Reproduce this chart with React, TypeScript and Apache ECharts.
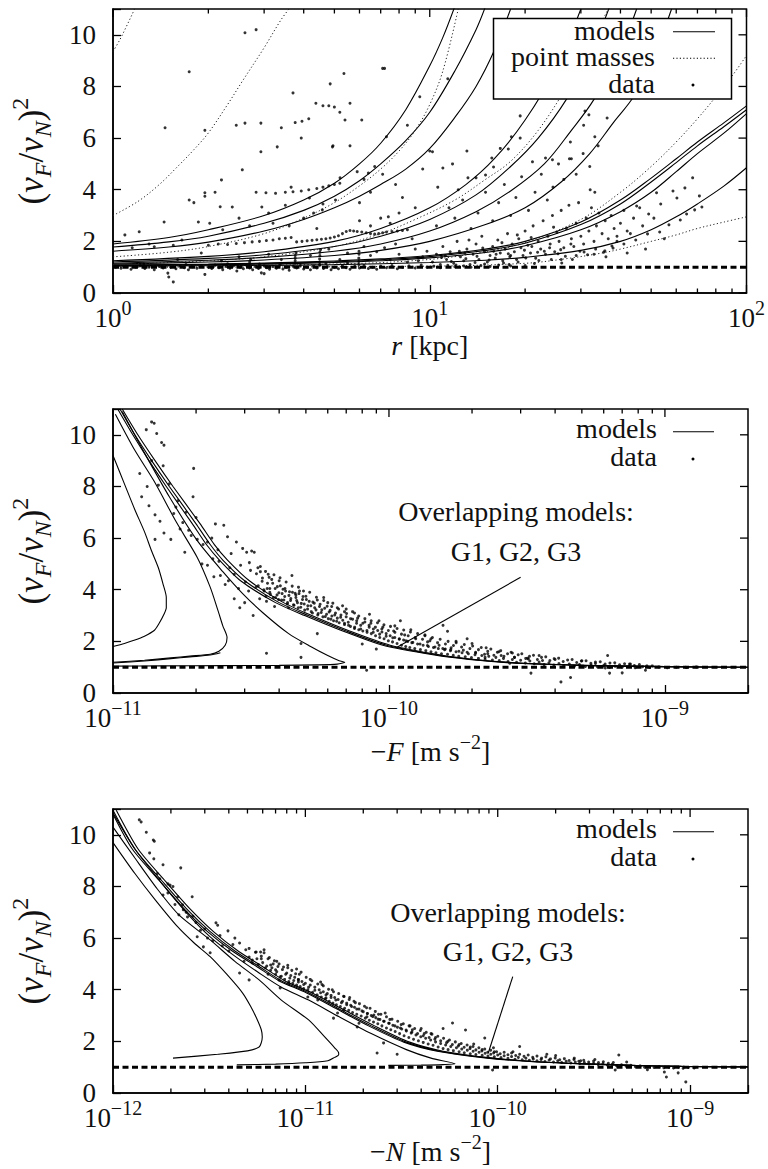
import React, { useEffect, useRef } from "react";
import * as echarts from "echarts";

const FONT = "Liberation Serif";
const INK = "#111";

// ---------------- Panel 1: (vF/vN)^2 vs r [kpc] ----------------
const p1Models = [
  [[1,1.9],[1.5,2.15],[2,2.45],[3,3.0],[4,3.6],[5,4.25],[6,5.0],[7,5.8],[8.4,7.1],[10,8.8],[11,9.9],[12,11.1]],
  [[1,1.78],[1.5,1.98],[2,2.2],[3,2.7],[4,3.2],[5,3.75],[6,4.35],[7,5.0],[8.4,5.9],[10,7.0],[12,8.6],[14,10.2],[15,11.1]],
  [[1,1.62],[1.5,1.78],[2,1.97],[3,2.4],[4,2.85],[5,3.3],[6,3.75],[7,4.2],[8.4,4.8],[10,5.6],[12,6.8],[14,8.0],[16,9.4],[18,11.0]],
  [[1,1.25],[2,1.42],[3,1.6],[5,2.0],[7,2.5],[10,3.3],[13,4.2],[16,5.2],[20,6.7],[25,8.7],[30,11.0]],
  [[1,1.2],[2,1.34],[3,1.48],[5,1.8],[7,2.2],[10,2.85],[14,3.8],[18,4.9],[22,6.0],[27,7.5],[32,9.2],[37,11.1]],
  [[1,1.15],[2,1.27],[3,1.38],[5,1.62],[7,1.9],[10,2.4],[14,3.15],[18,3.95],[23,5.0],[28,6.3],[33,7.5],[40,9.4],[45,11.0]],
  [[1,1.12],[2,1.2],[3,1.28],[5,1.45],[7,1.65],[10,2.0],[15,2.65],[20,3.3],[26,4.3],[32,5.4],[38,6.6],[44,7.6],[50,8.9],[58,11.0]],
  [[1,1.08],[2,1.12],[3,1.16],[5,1.24],[7,1.32],[10,1.45],[15,1.7],[20,2.0],[30,2.75],[40,3.6],[50,4.45],[60,5.2],[70,5.85],[85,6.6],[100,7.25]],
  [[1,1.07],[2,1.1],[3,1.14],[5,1.21],[7,1.29],[10,1.41],[15,1.65],[20,1.93],[30,2.65],[40,3.45],[50,4.3],[60,5.05],[70,5.7],[85,6.45],[100,7.1]],
  [[1,1.06],[2,1.09],[3,1.12],[5,1.18],[7,1.25],[10,1.36],[15,1.57],[20,1.83],[30,2.45],[40,3.15],[50,3.9],[60,4.7],[70,5.4],[85,6.2],[100,6.95]],
  [[1,1.04],[3,1.07],[5,1.1],[10,1.18],[15,1.27],[20,1.38],[30,1.65],[40,2.0],[50,2.45],[60,2.95],[70,3.45],[85,4.15],[100,4.85]],
];

const p1PointMasses = [
  [[1,9.35],[1.05,9.8],[1.1,10.3],[1.15,10.8],[1.18,11.1]],
  [[1,3.0],[1.2,3.55],[1.4,4.2],[1.6,4.9],[1.8,5.55],[2,6.2],[2.3,7.3],[2.56,8.2],[3,9.5],[3.4,10.6],[3.7,11.2]],
  [[1,1.4],[1.5,1.58],[2,1.8],[3,2.3],[4,2.9],[5,3.5],[6,4.15],[7,4.8],[8,5.5],[9,6.3],[10,7.3],[11,8.6],[12.3,11.0]],
  [[1,1.1],[2,1.25],[3,1.4],[5,1.8],[7,2.3],[9,2.85],[12,3.6],[15,4.4],[18,5.1],[22,6.3],[26.8,7.9],[31,9.3],[36.6,11.0]],
  [[1,1.03],[5,1.12],[10,1.3],[15,1.6],[20,1.95],[30,2.85],[40,3.9],[50,4.9],[60,5.85],[70,6.75],[80,7.6],[90,8.4],[100,9.2]],
  [[1,1.0],[10,1.04],[20,1.15],[27,1.33],[35,1.55],[40,1.7],[50,2.0],[60,2.25],[70,2.5],[85,2.75],[100,2.95]],
];

const p1DataBand = [
  [1.02,1.0],[1.06,0.96],[1.1,1.04],[1.14,0.92],[1.18,1.0],[1.22,1.06],[1.26,0.95],[1.3,1.0],[1.35,0.9],[1.4,1.03],
  [1.44,0.97],[1.49,0.77],[1.5,0.62],[1.55,0.43],[1.52,1.0],[1.58,0.94],[1.63,1.05],[1.68,0.98],[1.73,0.9],[1.78,1.02],
  [1.84,0.96],[1.9,1.06],[1.95,0.72],[2.0,1.0],[2.05,0.95],[2.1,1.08],[2.16,0.98],[2.22,0.9],[2.28,1.03],[2.34,0.96],
  [2.4,1.05],[2.46,0.85],[2.52,1.0],[2.58,0.94],[2.64,1.07],[2.7,0.97],[2.76,0.9],[2.82,1.02],[2.88,0.95],[2.94,0.78],
  [3.0,1.05],[3.06,0.98],[3.12,0.92],[3.2,1.03],[3.28,0.96],[3.36,1.08],[3.44,0.93],[3.52,1.0],[3.6,0.88],[3.7,1.04],
  [3.8,0.97],[3.9,1.06],[4.0,0.93],[4.1,1.0],[4.2,0.9],[4.3,1.05],[4.4,0.97],[4.5,1.08],[4.62,0.95],[4.75,1.02],
  [4.88,0.9],[5.0,1.0],[5.15,0.94],[5.3,1.06],[5.45,0.98],[5.6,0.92],[5.8,1.03],[6.0,0.97],[6.2,1.07],[6.4,0.95],
  [6.6,1.0],[6.8,0.92],[7.0,1.04],[7.3,0.98],[7.6,1.06],[7.9,0.94],[8.2,1.0],[8.6,1.05],[9.0,0.97],[9.4,1.08],
  [9.8,1.0],[10.3,1.04],[10.8,0.98],[11.4,1.07],[12,1.02],[12.8,1.05],[13.5,1.0],[14.5,1.06],[15.5,1.03],[16.5,1.08],
  [18,1.05],[20,1.06],[3.0,0.75],[1.25,1.12],[1.7,1.1],[2.3,1.13],[2.9,1.12],[3.4,1.15],[4.7,1.14],[5.5,1.16],
];

const p1DataStreaks = [
  [3.76,1.15],[3.76,1.25],[3.76,1.35],[3.76,1.45],[3.78,1.55],[4.49,1.1],[4.49,1.2],[4.49,1.32],[4.5,1.45],[4.5,1.58],
  [4.52,1.68],[5.97,1.1],[5.97,1.22],[5.97,1.35],[5.98,1.5],[5.98,1.62],[2.7,1.1],[2.7,1.2],[2.72,1.3],[7.5,1.3],
  [8,1.5],[8.5,1.2],[9,1.7],[9.5,1.4],[7.8,1.9],[8.8,2.1],[9.2,1.25],[6.5,1.45],[6.8,1.6],[7.2,1.75],
  [5.2,1.3],[5.5,1.55],[6.2,1.8],[4.8,1.7],[4.2,1.45],[3.4,1.3],[3.1,1.5],[2.5,1.4],[2.2,1.25],[1.9,1.55],[1.6,1.3],
];

const p1DataRows = [
  [3.8,1.98],[3.95,2.0],[4.1,2.02],[4.25,2.04],[4.4,2.06],[4.55,2.08],[4.7,2.1],[4.85,2.13],[5.0,2.17],[5.15,2.22],
  [5.3,2.3],[5.45,2.38],[5.6,2.42],[5.75,2.4],[5.9,2.38],[6.1,2.36],[6.3,2.33],[6.5,2.3],[6.7,2.28],[6.9,2.3],
  [7.1,2.33],[7.3,2.36],[7.6,2.38],[7.9,2.4],[8.2,2.42],[8.5,2.45],
  [2.0,1.85],[2.15,1.9],[2.3,1.88],[2.45,1.92],[2.6,1.95],[2.75,1.98],[2.9,2.0],[3.05,2.03],[3.2,2.05],[3.35,2.1],[3.5,2.12],[3.65,2.15],
  [2.83,3.9],[3.04,3.88],[3.26,3.86],[3.5,3.9],[3.7,3.92],[3.93,3.95],[4.15,4.0],[4.4,4.05],[4.6,4.1],[4.8,4.15],[5.0,4.2],[5.2,4.25],
  [1.95,3.88],[2.1,3.9],[6,2.8],[6.5,2.6],[7,2.9],[7.5,2.7],[8,3.1],[3.2,2.7],[3.6,2.6],[4.0,2.9],[4.4,2.5],
];

const p1DataArc = [
  [3.76,6.6],[3.95,6.65],[4.15,6.75],[4.37,7.35],[4.6,7.25],[4.8,7.25],[5.0,7.2],[5.2,7.0],[5.4,6.7],[4.85,8.1],
  [5.36,8.5],[3.7,7.75],[5.6,7.35],[7.2,8.7],[4.95,5.7],[6.1,6.7],
];

const p1DataScatter = [
  [1.09,2.25],[1.21,2.37],[1.35,1.79],[1.45,2.75],[1.46,6.4],[1.74,8.57],[1.74,3.6],[1.8,3.5],[1.86,2.75],[1.95,6.3],
  [1.95,3.75],[2.02,2.7],[2.18,3.34],[2.2,4.38],[2.22,2.45],[2.38,3.33],[2.45,6.5],[2.56,4.77],[2.61,10.08],[2.83,10.2],
  [2.61,6.58],[2.93,6.58],[2.93,5.47],[2.95,3.33],[3.3,5.66],[3.4,6.4],[3.65,4.1],[3.93,6.0],[4.17,3.68],[4.58,3.22],
  [4.93,5.66],[5.04,3.6],[5.21,4.46],[5.9,4.7],[6.0,3.5],[6.4,4.65],[6.7,4.9],[7.1,8.7],[7.3,6.05],[7.4,2.95],
  [1.15,1.75],[1.3,1.9],[1.55,1.85],[1.65,2.05],[2.7,2.6],[2.5,2.9],[3.1,3.1],[3.5,3.4],[4.3,3.1],[4.6,3.45],
  [5.6,5.7],[6.2,4.4],[6.5,3.9],[7.1,4.6],[8.5,6.5],[9.5,4.8],[10,5.5],[8.2,3.7],[9,3.3],[7.8,4.2],
];

const p1DataCluster = [
  [10.2,1.2],[10.5,1.5],[10.8,1.1],[11,1.8],[11.3,1.3],[11.6,1.6],[11.9,1.15],[12.2,2.0],[12.5,1.4],[12.8,1.25],
  [13.1,1.7],[13.4,1.1],[13.7,1.5],[14,1.9],[14.3,1.3],[14.6,2.2],[14.9,1.6],[15.2,1.2],[15.5,1.45],[15.8,1.8],
  [16.1,1.35],[16.4,2.05],[16.7,1.55],[17,1.25],[17.3,1.7],[17.6,2.3],[17.9,1.4],[18.2,1.9],[18.5,1.6],[18.8,1.3],
  [19.1,2.1],[19.4,1.75],[19.7,1.45],[20,2.4],[20.4,1.85],[20.8,1.55],[21.2,2.6],[21.6,1.35],[22,2.0],[22.4,1.7],
  [22.8,2.8],[23.2,1.5],[23.6,2.2],[24,1.9],[24.4,3.0],[24.8,1.6],[25.2,2.35],[25.6,2.0],[26,3.2],[26.5,1.75],
  [27,2.5],[27.5,3.4],[28,2.1],[28.5,1.8],[29,2.7],[29.5,3.5],[30,2.2],[30.6,1.9],[31.2,2.9],[31.8,2.4],
  [32.4,3.3],[33,2.0],[33.6,2.6],[34.2,3.1],[35,2.3],[35.8,2.8],[36.6,2.1],[37.4,3.0],[38.2,2.5],[39,2.2],
  [40,2.7],[41,3.2],[42,2.4],[44,2.9],[46,3.3],[11.2,1.45],[12.9,1.55],[14.1,1.42],[15.9,1.62],[17.7,1.52],
  [19.9,1.66],[21.9,1.58],[23.9,1.75],[25.9,1.68],[27.9,1.9],[16.9,1.95],[18.9,2.25],[20.9,2.15],[24.6,2.55],[13.3,2.05],
  [10.5,2.6],[11.5,3.3],[12,2.9],[12.7,3.6],[13.5,2.5],[14.2,3.1],[15,3.9],[15.8,2.8],[16.5,3.5],[17.2,4.2],
  [18,3.0],[18.7,3.7],[19.5,4.5],[20.5,3.2],[21.5,3.9],[22.5,4.6],[23.5,3.6],[24.5,4.1],[25.5,5.0],[26.5,4.4],
  [28,5.2],[29,4.6],[30.5,5.4],[32,4.9],[34,5.7],
  [10.9,1.38],[11.7,1.22],[12.4,1.62],[13.0,1.33],[13.9,1.18],[14.7,1.74],[15.4,1.28],[16.2,1.5],[17.1,1.16],[18.0,1.45],
  [19.0,1.2],[20.1,1.36],[21.0,1.8],[22.1,1.26],[23.0,1.62],[24.2,1.3],[25.4,1.52],[26.8,1.42],[28.2,1.3],[29.8,1.62],
  [31.5,1.48],[33.4,1.7],[35.4,1.58],[37.6,1.82],[12.1,1.08],[14.9,1.12],[17.8,1.1],[21.4,1.14],[26.1,1.16],[9.8,1.62],
];

const p1DataUpper = [
  [19.3,6.86],[18.1,6.05],[19.3,6.0],[16.7,5.6],[17.7,5.58],[13.1,5.5],[10.2,5.47],[30.9,7.05],[31.8,6.9],[36.3,6.78],
  [30.6,6.5],[33.2,6.05],[27.8,5.85],[27.6,5.2],[24.4,5.16],[23.2,5.23],[21.1,5.08],[15.7,5.23],[15.9,4.88],[11.8,5.0],
  [11.0,4.84],[10.6,4.1],[12.3,4.0],[13.2,4.46],[14.0,4.46],[15.0,4.57],[32.1,4.0],[33.2,3.9],[9.3,7.6],[11.4,8.3],
];

const p1DataRight = [
  [52,3.88],[58.6,3.95],[63.9,4.07],[67.6,4.46],[71,3.76],[60.3,3.68],[53.6,3.45],[45,3.37],[49.1,3.06],[56.9,2.64],
  [53.2,2.36],[48.7,2.29],[44.7,2.05],[41,1.9],[37.9,1.74],[35.7,1.63],[30.7,1.59],[64.7,3.06],[68.6,3.22],[72.3,3.33],
  [61.8,2.83],[36,1.4],[42,1.55],[48,1.7],[55,2.1],[39,2.0],[43,2.3],[47,2.6],[51,2.9],[26,1.3],[29,1.45],[33,1.5],
];

// ---------------- Panel 2: (vF/vN)^2 vs -F (x in units of 1e-11 m s^-2) ----------------
const F_UNIT = 1e-11;
const p2Models = [
  [[1.0,9.2],[1.1,8.1],[1.2,7.1],[1.3,6.25],[1.38,5.5],[1.46,4.85],[1.52,4.2],[1.56,3.7],[1.56,3.3],[1.53,3.05],[1.47,2.7],[1.41,2.42],[1.3,2.2],[1.2,2.05],[1.1,1.92],[1.0,1.8]],
  [[1.02,10.8],[1.2,9.4],[1.41,8.2],[1.7,6.6],[2.02,5.25],[2.25,4.1],[2.4,3.2],[2.5,2.6],[2.59,2.15],[2.55,1.85],[2.42,1.62],[2.25,1.5],[1.9,1.43],[1.62,1.36],[1.3,1.27],[1.0,1.19]],
  [[1.0,1.16],[1.3,1.24],[1.62,1.33],[1.9,1.4],[2.25,1.47],[2.45,1.56]],
  [[1.08,10.9],[1.3,9.3],[1.6,7.6],[2.02,5.9],[2.5,4.7],[2.95,3.85],[3.5,3.1],[4.33,2.3],[5.2,1.8],[6.0,1.45],[6.6,1.25],[6.92,1.19],[6.5,1.12],[5.5,1.09],[4.0,1.07],[2.5,1.06],[1.5,1.05],[1.0,1.04]],
  [[1.06,11.0],[1.2,10.0],[1.38,9.0],[1.6,8.0],[2.0,6.55],[2.25,5.75],[2.5,5.15],[3.0,4.35],[4.0,3.5],[5.1,3.0],[7.0,2.4],[9.8,1.85],[15,1.47],[20,1.3],[30,1.15],[50,1.07],[100,1.02],[200,1.0]],
  [[1.08,11.0],[1.23,10.0],[1.42,9.0],[1.65,8.0],[2.07,6.55],[2.33,5.75],[2.6,5.15],[3.12,4.35],[4.15,3.5],[5.25,3.0],[7.2,2.4],[10.1,1.85],[15.4,1.47],[20.5,1.3],[31,1.15],[51,1.07],[100,1.02],[200,1.0]],
  [[1.04,11.0],[1.18,10.0],[1.35,9.0],[1.56,8.0],[1.94,6.55],[2.18,5.75],[2.43,5.15],[2.9,4.35],[3.88,3.5],[4.95,3.0],[6.8,2.4],[9.5,1.85],[14.6,1.47],[19.5,1.3],[29,1.15],[49,1.07],[100,1.02],[200,1.0]],
];

const p2DataSparse = [
  [1.32,10.2],[1.38,10.5],[1.41,10.45],[1.44,10.05],[1.5,9.7],[1.53,9.6],[1.38,9.0],[1.52,8.8],[1.25,8.5],[1.33,8.0],
  [1.46,8.05],[1.6,8.1],[1.72,7.45],[1.69,7.2],[1.84,7.0],[1.79,6.6],[1.95,7.6],[1.96,8.7],[2.0,6.8],[1.27,7.6],
  [1.35,7.25],[1.42,6.9],[1.48,6.65],[1.53,6.2],[1.42,5.95],[1.62,5.95],[1.82,5.45],[2.02,5.95],[2.2,5.85],[2.35,6.55],
  [2.52,6.5],[2.6,6.05],[2.68,5.4],[2.8,5.85],[2.95,5.6],[3.05,5.45],[3.18,5.5],[3.25,5.45],[2.45,4.55],[2.55,4.2],
  [2.3,5.2],[2.1,5.0],[2.4,5.55],[2.65,4.85],[2.75,4.6],[2.9,4.95],[3.02,4.3],[3.15,4.75],[3.35,4.85],[3.48,4.45],
  [3.3,4.1],[2.88,3.3],[3.22,3.0],[2.75,3.65],[3.0,3.5],[3.7,4.05],[4.0,4.35],[4.7,4.1],[3.6,3.55],[2.62,4.35],
  [2.85,4.05],[3.1,3.95],[2.32,4.5],[2.2,4.95],[1.88,6.3],[1.75,6.35],[1.66,6.95],[2.12,5.75],[2.28,6.0],[1.92,6.1],
  [2.42,5.1],[3.12,5.05],[3.42,4.7],[3.65,4.6],[4.2,4.05],[4.45,4.55],[3.4,3.65],[3.85,3.35],[4.6,3.8],[3.6,1.54],
];

const p2DataBand = [
  [3.52,4.0],[3.58,3.75],[3.63,4.25],[3.7,3.9],[3.76,4.4],[3.81,3.7],[3.87,4.05],[3.93,3.8],[3.98,3.62],[4.04,4.15],
  [4.1,3.85],[4.16,3.6],[4.22,3.95],[4.28,3.45],[4.34,3.78],[4.4,3.58],[4.47,3.9],[4.53,3.4],[4.6,3.7],[4.66,3.5],
  [4.72,3.85],[4.79,3.32],[4.86,3.62],[4.93,3.45],[5.0,3.75],[5.07,3.25],[5.14,3.55],[5.21,3.38],[5.28,3.1],[5.36,3.48],
  [5.44,3.22],[5.52,3.02],[5.6,3.35],[5.68,3.12],[5.76,2.95],[5.85,3.28],[5.94,3.05],[6.03,2.88],[6.12,3.2],[6.21,2.98],
  [6.3,2.8],[6.4,3.1],[6.5,2.9],[6.6,2.72],[6.7,3.02],[6.8,2.82],[6.9,2.65],[7.0,2.95],[7.12,2.74],[7.25,2.58],
  [7.38,2.86],[7.5,2.5],[7.63,2.7],[7.77,2.45],[7.9,2.62],[8.04,2.4],[8.18,2.75],[8.33,2.35],[8.48,2.55],[8.63,2.3],
  [8.78,2.48],[8.94,2.22],[9.1,2.42],[9.26,2.15],[9.43,2.36],[9.6,2.1],[9.77,2.3],[9.95,2.02],[10.1,2.22],[10.3,1.98],
  [10.5,2.15],[10.7,1.92],[10.9,2.1],[11.1,1.85],[11.3,2.05],[11.5,1.8],[11.7,2.0],[11.9,1.76],[12.1,1.95],[12.4,1.72],
  [12.7,1.9],[13.0,1.68],[13.3,1.85],[13.6,1.64],[13.9,1.8],[14.2,1.6],[14.5,1.76],[14.8,1.56],[15.1,1.72],[15.5,1.52],
  [15.9,1.68],[16.3,1.5],[16.7,1.64],[17.1,1.46],[17.5,1.6],[17.9,1.42],[18.4,1.56],[18.9,1.4],[19.4,1.52],[19.9,1.37],
  [20.5,1.48],[21.1,1.34],[21.7,1.45],[22.3,1.31],[23,1.42],[23.7,1.28],[24.4,1.38],[25.1,1.26],[26,1.34],[27,1.22],
  [28,1.3],[29,1.19],[30,1.27],[31.2,1.16],[32.4,1.24],[33.6,1.13],[35,1.2],[36.5,1.1],[38,1.17],[39.6,1.08],
  [41.3,1.14],[43,1.06],[45,1.12],[47,1.04],[49,1.1],[51.5,1.03],[54,1.08],[57,1.01],[60,1.06],[63,0.99],
  [66,1.04],[70,1.0],[74,1.03],[78,0.98],[83,1.02],[88,0.99],[95,1.01],[102,0.98],[110,1.0],[120,0.99],[130,1.01],
];

const p2DataBand2 = [
  [3.31,4.62],[3.36,4.15],[3.42,4.9],[3.47,4.33],[3.53,3.95],[3.57,4.71],[3.62,4.05],[3.68,4.48],[3.72,3.82],[3.79,4.25],
  [3.83,4.58],[3.88,3.7],[3.94,4.12],[3.99,3.88],[4.03,4.46],[4.08,3.6],[4.13,4.02],[4.19,3.74],[4.24,4.3],[4.29,3.5],
  [4.36,3.92],[4.41,3.66],[4.46,4.14],[4.51,3.42],[4.57,3.86],[4.63,3.58],[4.69,3.3],[4.74,3.95],[4.81,3.47],[4.88,3.74],
  [4.95,3.21],[5.02,3.62],[5.08,3.38],[5.16,3.9],[5.23,3.15],[5.3,3.52],[5.38,3.3],[5.46,3.71],[5.54,3.08],[5.63,3.44],
  [5.71,3.22],[5.8,3.58],[5.88,2.96],[5.97,3.36],[6.07,3.14],[6.16,2.86],[6.26,3.48],[6.36,3.02],[6.46,2.78],[6.57,3.25],
  [6.68,2.93],[6.79,3.38],[6.9,2.7],[7.02,3.08],[7.14,2.62],[7.26,2.88],[7.38,3.15],[7.51,2.55],[7.64,2.8],[7.77,2.98],
  [7.9,2.48],[8.04,2.7],[8.18,2.88],[8.32,2.42],[8.47,2.62],[8.62,2.8],[8.77,2.35],[8.93,2.55],[9.09,2.72],[9.25,2.28],
  [9.42,2.48],[9.59,2.64],[9.77,2.2],[9.95,2.42],[10.13,2.58],[10.32,2.14],[10.51,2.35],[10.7,2.5],[10.9,2.08],[11.1,2.28],
  [11.31,2.44],[11.52,2.02],[11.74,2.22],[11.96,2.36],[12.2,1.96],[12.45,2.15],[12.7,2.3],[12.96,1.9],[13.23,2.08],[13.5,2.22],
  [13.78,1.84],[14.07,2.02],[14.37,2.15],[14.68,1.78],[15,1.95],[15.33,2.08],[15.67,1.72],[16.02,1.9],[16.38,2.0],[16.75,1.68],
  [17.13,1.84],[17.52,1.95],[17.92,1.62],[18.33,1.78],[18.75,1.88],[19.2,1.58],[19.65,1.72],[20.1,1.82],[20.6,1.55],[21.1,1.68],
  [21.6,1.76],[22.2,1.5],[22.8,1.62],[23.4,1.7],[24,1.46],[24.7,1.58],[25.4,1.64],[26.1,1.42],[26.9,1.52],[27.7,1.58],
  [28.5,1.38],[29.4,1.48],[30.3,1.52],[31.3,1.34],[32.3,1.42],[33.4,1.46],[34.5,1.3],[35.7,1.38],[37,1.4],[38.3,1.26],
  [39.7,1.33],[41.2,1.35],[42.8,1.22],[44.4,1.28],[46.1,1.3],[47.9,1.18],[49.8,1.24],[51.8,1.25],[53.9,1.15],[56,1.2],
  [58.3,1.21],[60.7,1.12],[63.2,1.16],[65.8,1.17],[68.5,1.09],[71.4,1.13],[74.4,1.12],[77.5,1.06],[80.8,1.1],[86,1.05],
  [4.9,3.95],[5.5,3.6],[6.2,3.35],[6.9,3.15],[7.7,2.9],[8.6,2.7],[9.5,2.55],[10.4,2.4],[11.4,2.25],[12.5,2.1],
  [13.8,1.98],[15.2,1.85],[16.8,1.75],[18.6,1.66],[20.6,1.58],[22.8,1.52],[25.5,1.45],[28.5,1.38],[32,1.32],[36,1.26],
];

const p2DataOutliers = [
  [4.33,3.3],[6.0,3.5],[6.5,3.3],[7.5,3.1],[8.5,3.05],[5.8,3.7],[7.0,3.25],[9.2,2.8],[10.5,2.6],[12,2.45],
  [11,2.8],[13.5,2.25],[15.7,2.62],[16.3,2.39],[16,1.7],[19.2,2.1],[20,1.92],[17.5,2.0],[22.5,1.75],[25,1.6],
  [14.2,2.1],[4.8,1.38],[4.8,1.92],[5.5,2.3],[8,1.9],[9,1.7],[31.8,1.35],[27.4,1.15],[22.3,1.38],[32.7,0.77],
  [42,0.43],[45.5,0.6],[62,1.45],[56,1.14],[60.8,0.97],[63,0.77],[70,0.78],[85,0.88],[119,1.0],[35,1.45],
  [40,1.3],[28,1.55],[50,1.25],[75,1.12],[90,1.05],[8.3,0.88],
];

// ---------------- Panel 3: (vF/vN)^2 vs -N (x in units of 1e-12 m s^-2) ----------------
const N_UNIT = 1e-12;
const p3Models = [
  [[1.0,9.7],[1.3,8.5],[1.65,7.5],[2.16,6.45],[2.65,5.8],[3.2,5.28],[3.9,4.6],[4.71,3.88],[5.2,3.35],[5.63,2.83],[5.9,2.45],[5.97,2.17],[5.9,1.95],[5.75,1.78],[5.0,1.63],[3.5,1.5],[2.05,1.35]],
  [[1.0,10.3],[1.3,9.1],[1.7,7.9],[2.2,6.9],[3.2,5.93],[4.3,5.1],[5.75,4.38],[7.5,3.6],[10.4,2.83],[12.5,2.2],[14.2,1.75],[14.9,1.55],[14.9,1.48],[14.2,1.38],[13.1,1.25],[10,1.17],[7,1.12],[4.4,1.09]],
  [[1.0,10.85],[1.3,9.45],[1.78,8.15],[2.4,7.0],[3.2,6.05],[4.3,5.3],[5.75,4.65],[7.5,4.1],[10.4,3.6],[15,2.95],[22,2.3],[33.5,1.68],[45,1.35],[60,1.13],[52,1.1],[40,1.08],[27,1.07]],
  [[1.0,10.95],[1.3,9.45],[1.78,8.25],[2.4,7.15],[3.2,6.25],[4.3,5.5],[5.75,4.9],[7.5,4.35],[10.4,3.88],[15,3.25],[22,2.6],[33.5,1.97],[50,1.62],[89,1.36],[150,1.22],[278,1.13],[500,1.07],[900,1.03],[2000,1.01]],
  [[1.04,10.95],[1.35,9.45],[1.85,8.25],[2.5,7.15],[3.33,6.25],[4.47,5.5],[5.98,4.9],[7.8,4.35],[10.8,3.88],[15.6,3.25],[22.9,2.6],[34.8,1.97],[52,1.62],[92,1.36],[156,1.22],[289,1.13],[520,1.07],[936,1.03],[2000,1.01]],
  [[1.0,10.8],[1.26,9.45],[1.73,8.25],[2.33,7.15],[3.1,6.25],[4.17,5.5],[5.58,4.9],[7.28,4.35],[10.1,3.88],[14.6,3.25],[21.3,2.6],[32.5,1.97],[48.5,1.62],[86,1.36],[146,1.22],[270,1.13],[485,1.07],[873,1.03],[2000,1.01]],
];

const p3DataSparse = [
  [1.37,10.58],[1.4,10.5],[1.49,10.1],[1.62,9.8],[1.64,9.75],[1.63,9.07],[1.82,8.84],[2.25,8.72],[1.93,8.1],[1.98,8.05],
  [1.82,7.67],[1.93,7.75],[2.17,7.6],[2.3,7.29],[2.32,7.1],[2.58,7.6],[2.44,6.82],[2.6,6.85],[2.74,6.05],[3.43,6.59],
  [3.5,6.5],[3.96,6.28],[4.3,6.0],[4.55,5.81],[5.1,5.27],[5.55,5.46],[5.85,5.46],[6.1,5.43],[5.3,5.04],[5.9,5.2],
  [6.6,4.96],[7.0,4.77],[7.3,4.38],[7.4,4.07],[8.2,4.26],[9.2,4.38],[10.3,3.72],[11.6,3.6],[12.8,3.68],[14.7,3.1],
  [15.8,3.22],[18.6,2.56],[23.6,1.55],[25.5,1.94],[20.9,2.95],[22.7,3.02],[3.2,5.43],[2.95,5.66],[4.55,4.65],[5.1,4.38],
  [1.7,8.5],[2.05,8.0],[2.4,7.0],[2.85,6.3],[3.1,6.0],[3.7,5.7],[2.1,7.3],[1.55,9.3],[1.75,8.3],[2.7,6.6],
  [3.3,5.9],[4.0,5.5],[4.8,5.1],[6.4,4.6],[2.2,6.9],[3.0,6.35],[3.6,6.1],[4.2,5.75],[4.9,5.55],[5.6,5.2],
];

const p3DataBand = [
  [6.0,5.05],[6.2,4.85],[6.4,5.2],[6.6,4.75],[6.8,5.0],[7.0,4.6],[7.2,4.9],[7.4,4.5],[7.6,4.78],[7.8,4.4],
  [8.0,4.65],[8.2,4.32],[8.4,4.55],[8.6,4.25],[8.8,4.48],[9.0,4.18],[9.2,4.4],[9.4,4.12],[9.6,4.32],[9.8,4.05],
  [10.0,4.25],[10.3,4.0],[10.6,4.18],[10.9,3.9],[11.2,4.1],[11.5,3.8],[11.8,4.0],[12.1,3.72],[12.4,3.92],[12.7,3.65],
  [13.0,3.85],[13.3,3.55],[13.6,3.78],[13.9,3.48],[14.2,3.7],[14.5,3.42],[14.8,3.62],[15.2,3.35],[15.6,3.55],[16.0,3.28],
  [16.4,3.48],[16.8,3.2],[17.2,3.4],[17.6,3.12],[18.0,3.32],[18.5,3.05],[19.0,3.25],[19.5,2.98],[20.0,3.15],[20.5,2.9],
  [21.0,3.08],[21.5,2.82],[22.0,3.0],[22.6,2.75],[23.2,2.92],[23.8,2.68],[24.4,2.85],[25.0,2.6],[25.7,2.78],[26.4,2.52],
  [27.1,2.7],[27.8,2.45],[28.5,2.62],[29.3,2.38],[30.1,2.55],[30.9,2.3],[31.7,2.48],[32.6,2.22],[33.5,2.4],[34.5,2.15],
  [35.5,2.32],[36.5,2.08],[37.6,2.25],[38.7,2.02],[39.8,2.18],[41,1.96],[42.2,2.12],[43.5,1.9],[44.8,2.05],[46.1,1.85],
  [47.5,1.98],[49,1.78],[50.5,1.92],[52,1.72],[53.6,1.86],[55.2,1.68],[57,1.8],[58.8,1.64],[61,1.75],[63,1.6],
  [65,1.7],[67,1.56],[69.5,1.66],[72,1.52],[74.5,1.62],[77,1.49],[80,1.58],[83,1.46],[86,1.54],[89,1.43],
  [92,1.5],[96,1.4],[100,1.47],[104,1.37],[108,1.44],[113,1.34],[118,1.41],[123,1.31],[128,1.38],[134,1.29],
  [140,1.35],[146,1.27],[153,1.32],[160,1.25],[168,1.3],[176,1.22],[185,1.28],[195,1.2],[205,1.25],[215,1.18],
  [227,1.23],[240,1.16],[253,1.2],[267,1.14],[282,1.18],[298,1.12],[315,1.15],[333,1.1],[352,1.13],[372,1.08],
  [393,1.11],[415,1.06],[440,1.09],[465,1.04],[492,1.07],[520,1.02],[550,1.05],[580,1.0],[615,1.03],[650,0.99],
  [690,1.02],[730,0.98],[775,1.0],[820,0.97],[870,1.0],[920,0.96],[980,0.99],
];

const p3DataBand2 = [
  [5.1,5.6],[5.3,5.15],[5.5,5.45],[5.7,4.98],[5.9,5.3],[6.1,5.55],[6.3,4.92],[6.5,5.25],[6.7,4.85],[6.9,5.12],
  [7.1,4.7],[7.3,5.0],[7.5,4.52],[7.7,4.88],[7.9,4.6],[8.1,4.95],[8.3,4.45],[8.5,4.75],[8.7,4.36],[8.9,4.62],
  [9.2,4.3],[9.5,4.68],[9.8,4.2],[10.1,4.48],[10.4,4.1],[10.8,4.35],[11.2,3.98],[11.6,4.22],[12,3.88],[12.4,4.15],
  [12.8,3.8],[13.2,4.02],[13.6,3.7],[14,3.92],[14.4,3.6],[14.9,3.85],[15.4,3.5],[15.9,3.74],[16.4,3.42],[16.9,3.62],
  [17.4,3.35],[17.9,3.55],[18.5,3.25],[19.1,3.46],[19.7,3.18],[20.3,3.36],[21,3.08],[21.7,3.28],[22.4,2.96],[23.1,3.16],
  [23.9,2.86],[24.7,3.05],[25.5,2.78],[26.4,2.95],[27.3,2.7],[28.2,2.86],[29.2,2.6],[30.2,2.78],[31.2,2.52],[32.3,2.68],
  [33.4,2.44],[34.6,2.6],[35.8,2.36],[37,2.5],[38.3,2.3],[39.6,2.42],[41,2.22],[42.5,2.35],[44,2.15],[45.5,2.28],
  [47.1,2.08],[48.8,2.2],[50.5,2.02],[52.3,2.12],[54.2,1.95],[56.1,2.05],[58.1,1.88],[60.2,1.98],[62.4,1.82],[64.6,1.92],
  [66.9,1.77],[69.3,1.86],[71.8,1.72],[74.4,1.8],[77,1.67],[79.8,1.75],[82.7,1.63],[85.6,1.7],[88.7,1.58],[91.9,1.66],
  [95.2,1.55],[98.6,1.6],[103,1.52],[108,1.58],[113,1.48],[118,1.55],[124,1.45],[130,1.5],[137,1.42],[144,1.47],
  [152,1.38],[160,1.43],[169,1.35],[178,1.4],[188,1.32],[199,1.36],[210,1.29],[222,1.33],[235,1.26],[249,1.3],
  [264,1.23],[280,1.27],[297,1.2],[315,1.24],[334,1.18],[354,1.21],[376,1.15],[399,1.18],
  [7.1,5.1],[8.1,4.85],[9.3,4.6],[10.6,4.4],[12.2,4.2],[13.8,4.0],[15.8,3.75],[18.2,3.5],[20.8,3.3],[24,3.05],
  [27.5,2.85],[31.5,2.65],[36,2.45],[41.5,2.3],[47.5,2.15],[55,2.0],[63,1.88],[72,1.78],[83,1.68],[96,1.6],
];

const p3DataOutliers = [
  [58.2,2.71],[68,2.44],[85.6,2.13],[426,1.47],[468,1.2],[408,0.89],[735,0.81],[753,0.62],[867,0.78],[950,0.43],
  [94,0.89],[30,1.5],[45,2.3],[52,2.5],[40,2.5],[75,1.9],[120,1.6],[200,1.45],[250,1.35],[320,1.3],
  [130,1.8],[95,1.75],[180,1.5],[270,1.25],[17,3.7],[12,4.3],[9,4.8],[26,3.1],[35,2.6],[14,2.9],
  [19,2.7],[600,0.9],[1050,0.97],
];

// annotation pointers (data coordinates, same units as the panel data)
const p2Pointer = [[10.7,1.77],[30,4.48]];
const p3Pointer = [[89.2,1.54],[119.7,4.51]];

// ticks
const yTicks = [0, 2, 4, 6, 8, 10];
const minorMantissas = [2, 3, 4, 5, 6, 7, 8, 9];
const p1Decades = [1, 10, 100];
const p2Decades = [1e-11, 1e-10, 1e-9];
const p3Decades = [1e-12, 1e-11, 1e-10, 1e-9];

function minorTicks(decades: number[], max: number) {
  const out: number[] = [];
  decades.forEach((d) => minorMantissas.forEach((m) => { if (m * d < max * 0.999) out.push(m * d); }));
  return out;
}

const scale = (arr: number[][], u: number) => arr.map((p) => [p[0] * u, p[1]]);

function tickFmt(v: number) {
  const l = Math.log10(v);
  const e = Math.round(l);
  if (Math.abs(l - e) > 0.01) return "";
  const s = e < 0 ? "\u2212" + -e : String(e);
  return `{b|10}{e|${s}}`;
}
function yFmt(v: number) {
  return v > 10.5 ? "" : String(v);
}

const richTick = {
  b: { fontFamily: FONT, fontSize: 27, color: INK, padding: [6, 0, 0, 0] },
  e: { fontFamily: FONT, fontSize: 20, color: INK, verticalAlign: "top" },
};
const richXName = {
  n: { fontFamily: FONT, fontSize: 28, color: INK, padding: [6, 0, 0, 0] },
  g: { fontFamily: FONT, fontSize: 28, color: INK, padding: [6, 0, 0, 7] },
  i: { fontFamily: FONT, fontSize: 28, fontStyle: "italic", color: INK, padding: [6, 0, 0, 0] },
  e: { fontFamily: FONT, fontSize: 20, color: INK, verticalAlign: "top" },
};
const richYName = {
  p: { fontFamily: FONT, fontSize: 35, color: INK, padding: [6, 0, 6, 0] },
  v: { fontFamily: FONT, fontSize: 35, fontStyle: "italic", color: INK, padding: [6, 0, 6, 0] },
  s: { fontFamily: FONT, fontSize: 24, fontStyle: "italic", color: INK, verticalAlign: "bottom" },
  e: { fontFamily: FONT, fontSize: 24, color: INK, verticalAlign: "top" },
};

const panels = [
  { top: 9, min: 1, max: 100, decades: p1Decades, name: "{i|r}{g|[kpc]}", gap: 29 },
  { top: 409, min: 1e-11, max: 2e-9, decades: p2Decades, name: "{n|\u2212}{i|F}{g|[m}{g|s}{e|\u22122}{n|]}", gap: 33 },
  { top: 809, min: 1e-12, max: 2e-9, decades: p3Decades, name: "{n|\u2212}{i|N}{g|[m}{g|s}{e|\u22122}{n|]}", gap: 26 },
];

const TICK = { color: "#000", width: 1.3 };

function buildOption() {
  const grid: any[] = [];
  const xAxis: any[] = [];
  const yAxis: any[] = [];
  const series: any[] = [];

  panels.forEach((p, i) => {
    grid.push({ left: 101, top: p.top, width: 647, height: 284, show: true, borderColor: "#000", borderWidth: 1.5 });
    xAxis.push({
      gridIndex: i, type: "log", logBase: 10, min: p.min, max: p.max, position: "bottom",
      axisLine: { show: true, onZero: false, lineStyle: { color: "#000", width: 1.5 } }, splitLine: { show: false },
      axisTick: { show: true, inside: true, length: 8, lineStyle: TICK },
      axisLabel: { show: true, margin: 5, formatter: tickFmt, rich: richTick, color: INK, fontFamily: FONT, fontSize: 27 },
      name: p.name, nameLocation: "middle", nameGap: p.gap,
      nameTextStyle: { rich: richXName, fontFamily: FONT, fontSize: 28, color: INK },
    });
    yAxis.push({
      gridIndex: i, type: "value", min: 0, max: 11, interval: 2, position: "left",
      axisLine: { show: true, onZero: false, lineStyle: { color: "#000", width: 1.5 } }, splitLine: { show: false },
      axisTick: { show: true, inside: true, length: 8, lineStyle: TICK },
      axisLabel: { show: true, margin: 17, formatter: yFmt, fontFamily: FONT, fontSize: 27, color: INK },
      name: "{p|(}{v|v}{s|F}{p|/}{v|v}{s|N}{p|)}{e|2}", nameLocation: "middle", nameGap: 58, nameRotate: 90,
      nameTextStyle: { rich: richYName, fontFamily: FONT, fontSize: 35, color: INK },
    });
  });

  const line = (i: number, data: number[][], dotted: boolean, smooth: number) => ({
    type: "line", xAxisIndex: i, yAxisIndex: i, data, symbol: "none", showSymbol: false, smooth, silent: true, clip: true,
    lineStyle: { color: dotted ? "#222" : "#000", width: dotted ? 1 : 1.1, type: dotted ? [1.2, 2.4] : "solid" },
    z: 2,
  });
  const dots = (i: number, data: number[][]) => ({
    type: "scatter", xAxisIndex: i, yAxisIndex: i, data, symbol: "circle", symbolSize: 3, silent: true, clip: true,
    itemStyle: { color: "#000" }, z: 3,
  });
  const unity = (i: number) => ({
    type: "line", xAxisIndex: i, yAxisIndex: i, data: [[panels[i].min, 1], [panels[i].max, 1]], symbol: "none", silent: true,
    lineStyle: { color: "#000", width: 3, type: [6, 3.5] }, z: 4,
  });

  p1Models.forEach((d) => series.push(line(0, d, false, 0.35)));
  p1PointMasses.forEach((d) => series.push(line(0, d, true, 0.35)));
  [p1DataBand, p1DataStreaks, p1DataRows, p1DataArc, p1DataScatter, p1DataCluster, p1DataUpper, p1DataRight].forEach((d) => series.push(dots(0, d)));
  series.push(unity(0));

  p2Models.forEach((d) => series.push(line(1, scale(d, F_UNIT), false, 0.25)));
  [p2DataSparse, p2DataBand, p2DataBand2, p2DataOutliers].forEach((d) => series.push(dots(1, scale(d, F_UNIT))));
  series.push(unity(1));
  series.push(line(1, scale(p2Pointer, F_UNIT), false, 0));

  p3Models.forEach((d) => series.push(line(2, scale(d, N_UNIT), false, 0.25)));
  [p3DataSparse, p3DataBand, p3DataBand2, p3DataOutliers].forEach((d) => series.push(dots(2, scale(d, N_UNIT))));
  series.push(unity(2));
  series.push(line(2, scale(p3Pointer, N_UNIT), false, 0));

  const txt = (text: string, x: number, y: number, align: string) => ({
    type: "text", x, y, z: 101,
    style: { text, fill: INK, fontFamily: FONT, fontSize: 28, align, verticalAlign: "middle" },
  });
  const seg = (x1: number, x2: number, y: number, dash?: number[]) => ({
    type: "line", z: 101, shape: { x1, y1: y, x2, y2: y },
    style: dash ? { stroke: "#000", lineWidth: 1.1, lineDash: dash } : { stroke: "#000", lineWidth: 1.1 },
  });
  const dot = (x: number, y: number) => ({ type: "circle", z: 101, shape: { cx: x, cy: y, r: 1.5 }, style: { fill: "#000" } });

  const graphic: any[] = [
    { type: "rect", z: 100, shape: { x: 493.5, y: 18.5, width: 238, height: 80.5 }, style: { fill: "#fff", stroke: "#000", lineWidth: 1.5 } },
    txt("models", 655, 30, "right"), seg(673, 715, 31.7),
    txt("point masses", 655, 56.5, "right"), seg(673, 715, 58.3, [1.2, 2.2]),
    txt("data", 655, 83, "right"), dot(693, 85),

    txt("models", 657, 428.7, "right"), seg(673, 714, 431.7),
    txt("data", 657, 456, "right"), dot(693, 459),
    txt("Overlapping models:", 516, 511.7, "center"), txt("G1, G2, G3", 516, 551.7, "center"),

    txt("models", 657, 828.7, "right"), seg(673, 714, 831.7),
    txt("data", 657, 856, "right"), dot(693, 859),
    txt("Overlapping models:", 508, 912.5, "center"), txt("G1, G2, G3", 508, 951.7, "center"),
  ];

  return {
    animation: false, backgroundColor: "#fff",
    textStyle: { fontFamily: FONT, fontSize: 27, color: INK },
    grid, xAxis, yAxis, series, graphic,
  };
}

// minor log ticks and mirrored top/right ticks, placed through each panel's axis scales
function tickGraphics(chart: any) {
  const out: any[] = [];
  const mk = (x1: number, y1: number, x2: number, y2: number) => ({
    type: "line", z: 102, shape: { x1, y1, x2, y2 }, style: { stroke: "#000", lineWidth: 1.3 },
  });
  panels.forEach((p, i) => {
    const f = { xAxisIndex: i, yAxisIndex: i };
    const px = (x: number, y: number) => chart.convertToPixel(f, [x, y]) as number[];
    const ok = (a: number[]) => a && isFinite(a[0]) && isFinite(a[1]);
    minorTicks(p.decades, p.max).forEach((v) => {
      const b = px(v, 0);
      const t = px(v, 11);
      if (ok(b) && ok(t)) out.push(mk(b[0], b[1], b[0], b[1] - 4.5), mk(t[0], t[1], t[0], t[1] + 4.5));
    });
    p.decades.forEach((v) => {
      const t = px(v, 11);
      if (ok(t)) out.push(mk(t[0], t[1], t[0], t[1] + 8));
    });
    yTicks.forEach((v) => {
      const r = px(p.max, v);
      if (ok(r)) out.push(mk(r[0], r[1], r[0] - 8, r[1]));
    });
  });
  return out;
}

export default function App() {
  const ref = useRef<HTMLDivElement>(null);
  useEffect(() => {
    document.body.style.margin = "0";
    const chart = echarts.init(ref.current as HTMLDivElement, undefined, { renderer: "svg" });
    const option = buildOption();
    chart.setOption(option as any);
    chart.setOption({ graphic: [...option.graphic, ...tickGraphics(chart)] } as any);
    return () => chart.dispose();
  }, []);
  return <div ref={ref} style={{ width: 768, height: 1169 }} />;
}
